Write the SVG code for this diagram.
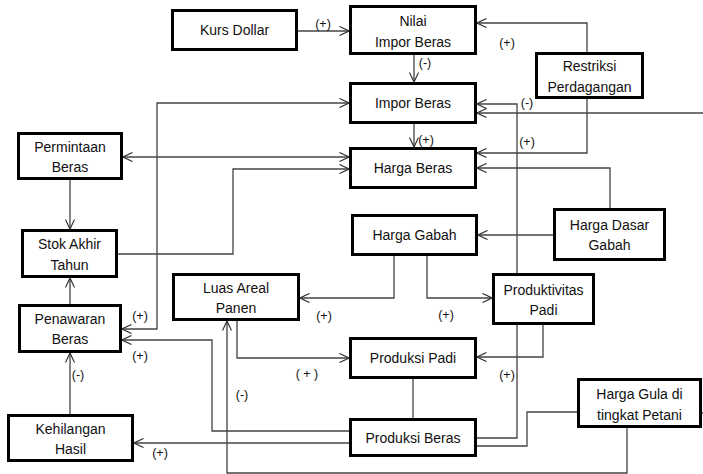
<svg xmlns="http://www.w3.org/2000/svg" width="703" height="474" viewBox="0 0 703 474">
<style>
.box{fill:#fff;stroke:#000;stroke-width:3}
.t{font-family:"Liberation Sans",Arial,sans-serif;font-size:14px;fill:#111;text-anchor:middle}
.c{fill:none;stroke:#444;stroke-width:1.3}
.l{font-family:"Liberation Sans",Arial,sans-serif;font-size:12.5px;fill:#111;text-anchor:middle}
</style>
<defs>
<marker id="a" viewBox="0 0 10 10" refX="10" refY="5" markerWidth="10" markerHeight="10" markerUnits="userSpaceOnUse" orient="auto-start-reverse">
<path d="M0.5,0.5 L10,5 L0.5,9.5" fill="none" stroke="#333" stroke-width="1.2"/>
</marker>
</defs>
<rect width="703" height="474" fill="#fff"/>
<g id="connectors">
<path class="c" d="M298,31 H349" marker-end="url(#a)"/>
<path class="c" d="M414,55 V82" marker-end="url(#a)"/>
<path class="c" d="M587,52 V23 H477" marker-end="url(#a)"/>
<path class="c" d="M587,99 V153 H477" marker-end="url(#a)"/>
<path class="c" d="M703,113 H477" marker-end="url(#a)"/>
<path class="c" d="M701,413 H703"/>
<path class="c" d="M477,438 H517 V104 H477" marker-end="url(#a)"/>
<path class="c" d="M414,124 V147" marker-end="url(#a)"/>
<path class="c" d="M122,329 H157 V103 H349" marker-start="url(#a)" marker-end="url(#a)"/>
<path class="c" d="M123,157 H349" marker-start="url(#a)" marker-end="url(#a)"/>
<path class="c" d="M118,254 H233 V169 H349" marker-end="url(#a)"/>
<path class="c" d="M70,180 V229" marker-end="url(#a)"/>
<path class="c" d="M70,304 V278" marker-end="url(#a)"/>
<path class="c" d="M70,414 V353" marker-end="url(#a)"/>
<path class="c" d="M349,431 H212 V340 H122" marker-end="url(#a)"/>
<path class="c" d="M349,443 H134" marker-end="url(#a)"/>
<path class="c" d="M627,428 V473 H227 V321" marker-end="url(#a)"/>
<path class="c" d="M394,256 V298 H300" marker-end="url(#a)"/>
<path class="c" d="M427,256 V298 H492" marker-end="url(#a)"/>
<path class="c" d="M553,235 H478" marker-end="url(#a)"/>
<path class="c" d="M610,208 V168 H477" marker-end="url(#a)"/>
<path class="c" d="M237,321 V358 H349" marker-end="url(#a)"/>
<path class="c" d="M543,325 V357 H477" marker-end="url(#a)"/>
<path class="c" d="M413,379 V418"/>
<path class="c" d="M577,412 H527 V446 H477"/>
<text class="l" x="323" y="28">(+)</text>
<text class="l" x="425" y="67">(-)</text>
<text class="l" x="507" y="47">(+)</text>
<text class="l" x="527" y="146">(+)</text>
<text class="l" x="527" y="107">(-)</text>
<text class="l" x="507" y="379">(+)</text>
<text class="l" x="426" y="144">(+)</text>
<text class="l" x="140" y="320">(+)</text>
<text class="l" x="78" y="379">(-)</text>
<text class="l" x="140" y="360">(+)</text>
<text class="l" x="160" y="457">(+)</text>
<text class="l" x="242" y="399">(-)</text>
<text class="l" x="324" y="320">(+)</text>
<text class="l" x="446" y="319">(+)</text>
<text class="l" x="307" y="378">( + )</text>
</g>
<g id="kurs-dollar"><rect class="box" x="172.5" y="10.5" width="124" height="39"/><text class="t" x="234.5" y="35">Kurs Dollar</text></g>
<g id="nilai-impor-beras"><rect class="box" x="350.5" y="6.5" width="125" height="47"/><text class="t" x="413" y="26">Nilai</text><text class="t" x="413" y="47">Impor Beras</text></g>
<g id="impor-beras"><rect class="box" x="350.5" y="83.5" width="125" height="39"/><text class="t" x="413" y="108">Impor Beras</text></g>
<g id="restriksi-perdagangan"><rect class="box" x="536.5" y="53.5" width="106" height="44"/><text class="t" x="589.5" y="71">Restriksi</text><text class="t" x="589.5" y="91.5">Perdagangan</text></g>
<g id="permintaan-beras"><rect class="box" x="18.5" y="133.5" width="103" height="45"/><text class="t" x="70" y="151.5">Permintaan</text><text class="t" x="70" y="172">Beras</text></g>
<g id="harga-beras"><rect class="box" x="350.5" y="148.5" width="125" height="39"/><text class="t" x="413" y="173">Harga Beras</text></g>
<g id="stok-akhir-tahun"><rect class="box" x="22.5" y="230.5" width="94" height="46"/><text class="t" x="69.5" y="249">Stok Akhir</text><text class="t" x="69.5" y="269.5">Tahun</text></g>
<g id="harga-gabah"><rect class="box" x="352.5" y="215.5" width="124" height="39"/><text class="t" x="414.5" y="240">Harga Gabah</text></g>
<g id="harga-dasar-gabah"><rect class="box" x="554.5" y="209.5" width="110" height="50"/><text class="t" x="609.5" y="229.5">Harga Dasar</text><text class="t" x="609.5" y="249.5">Gabah</text></g>
<g id="luas-areal-panen"><rect class="box" x="173.5" y="274.5" width="125" height="45"/><text class="t" x="236" y="292.5">Luas Areal</text><text class="t" x="236" y="313">Panen</text></g>
<g id="produktivitas-padi"><rect class="box" x="493.5" y="274.5" width="100" height="49"/><text class="t" x="543.5" y="294.5">Produktivitas</text><text class="t" x="543.5" y="314.5">Padi</text></g>
<g id="penawaran-beras"><rect class="box" x="19.5" y="305.5" width="101" height="46"/><text class="t" x="70" y="323.5">Penawaran</text><text class="t" x="70" y="344">Beras</text></g>
<g id="produksi-padi"><rect class="box" x="350.5" y="338.5" width="125" height="39"/><text class="t" x="413" y="363">Produksi Padi</text></g>
<g id="kehilangan-hasil"><rect class="box" x="8.5" y="415.5" width="124" height="45"/><text class="t" x="70.5" y="433.5">Kehilangan</text><text class="t" x="70.5" y="454">Hasil</text></g>
<g id="produksi-beras"><rect class="box" x="350.5" y="419.5" width="125" height="36"/><text class="t" x="413" y="442.5">Produksi Beras</text></g>
<g id="harga-gula"><rect class="box" x="578.5" y="379.5" width="122" height="47"/><text class="t" x="639.5" y="399">Harga Gula di</text><text class="t" x="639.5" y="419.5">tingkat Petani</text></g>
</svg>
